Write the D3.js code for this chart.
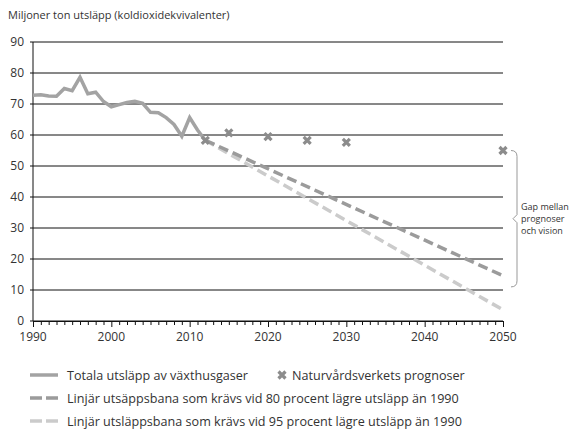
<!DOCTYPE html>
<html>
<head>
<meta charset="utf-8">
<script src="https://cdn.jsdelivr.net/npm/d3@7"></script>
<style>
  body { margin: 0; background: #fff; }
  text { font-family: "Open Sans", "DejaVu Sans", sans-serif; fill: #333; }
</style>
</head>
<body>
<svg id="chart" width="577" height="429"></svg>
<script>
// total emissions per year
var years = d3.range(1990, 2013);
var emissions = [72.8, 73.0, 72.6, 72.5, 75.0, 74.3, 78.6, 73.3, 73.8, 70.8, 69.1,
                 69.8, 70.5, 70.9, 70.2, 67.3, 67.2, 65.6, 63.4, 59.6, 65.6, 61.6, 58.3];

// forecasts
var forecastYears = [2012, 2015, 2020, 2025, 2030, 2050];
var forecastValues = [58.3, 60.7, 59.5, 58.3, 57.6, 55.0];

// linear paths to 2050
var path80 = [[2012, 58.3], [2050, 14.6]];
var path95 = [[2012, 58.3], [2050, 3.6]];

var yTicks = [0, 10, 20, 30, 40, 50, 60, 70, 80, 90];
var xTicks = [1990, 2000, 2010, 2020, 2030, 2040, 2050];

var gapLabel = ['Gap mellan', 'prognoser', 'och vision'];

var legendItems = [
  {type: 'line', color: '#a3a3a3', dash: null, label: 'Totala utsläpp av växthusgaser'},
  {type: 'cross', color: '#8c8c8c', label: 'Naturvårdsverkets prognoser'},
  {type: 'line', color: '#9b9b9b', dash: '12,4', label: 'Linjär utsäppsbana som krävs vid 80 procent lägre utsläpp än 1990'},
  {type: 'line', color: '#cbcbcb', dash: '12,4', label: 'Linjär utsläppsbana som krävs vid 95 procent lägre utsläpp än 1990'}
];

var svg = d3.select('#chart');

var x = d3.scaleLinear().domain([1990, 2050]).range([33, 503]);
var y = d3.scaleLinear().domain([0, 90]).range([321, 42]);

// axis title
svg.append('text')
  .attr('x', 8).attr('y', 19)
  .style('font-size', '11px')
  .text('Miljoner ton utsläpp (koldioxidekvivalenter)');

// grid lines
svg.selectAll('.grid')
  .data(yTicks)
  .enter().append('line')
  .attr('x1', x(1990) - 3).attr('x2', x(2050))
  .attr('y1', function(d) { return y(d); })
  .attr('y2', function(d) { return y(d); })
  .attr('stroke', '#111').attr('stroke-width', 1);

// y labels
svg.selectAll('.ylab')
  .data(yTicks)
  .enter().append('text')
  .attr('x', 24)
  .attr('y', function(d) { return y(d) + 4; })
  .attr('text-anchor', 'end')
  .style('font-size', '12px')
  .text(function(d) { return d; });

// y axis line
svg.append('line')
  .attr('x1', x(1990)).attr('x2', x(1990))
  .attr('y1', y(90)).attr('y2', y(0))
  .attr('stroke', '#111').attr('stroke-width', 1);

// x axis with yearly ticks
var xAxis = d3.axisBottom(x)
  .tickValues(d3.range(1990, 2051))
  .tickSize(4)
  .tickFormat('');
svg.append('g')
  .attr('transform', 'translate(0,' + y(0) + ')')
  .call(xAxis)
  .call(function(g) {
    g.select('.domain').attr('stroke', '#111');
    g.selectAll('.tick line')
      .attr('stroke', '#111')
      .attr('y2', function(d) { return d % 10 === 0 ? 6 : 4; });
  });

svg.selectAll('.xlab')
  .data(xTicks)
  .enter().append('text')
  .attr('x', function(d) { return x(d); })
  .attr('y', 341)
  .attr('text-anchor', 'middle')
  .style('font-size', '12px')
  .text(function(d) { return d; });

// dashed paths
var line = d3.line()
  .x(function(d) { return x(d[0]); })
  .y(function(d) { return y(d[1]); });

svg.append('path')
  .datum(path95)
  .attr('d', line)
  .attr('fill', 'none')
  .attr('stroke', '#cbcbcb').attr('stroke-width', 3.5)
  .attr('stroke-dasharray', '10,5');

svg.append('path')
  .datum(path80)
  .attr('d', line)
  .attr('fill', 'none')
  .attr('stroke', '#9b9b9b').attr('stroke-width', 3.5)
  .attr('stroke-dasharray', '10,5');

// emissions line
svg.append('path')
  .datum(years.map(function(d, i) { return [d, emissions[i]]; }))
  .attr('d', line)
  .attr('fill', 'none')
  .attr('stroke', '#a3a3a3').attr('stroke-width', 3.5)
  .attr('stroke-linejoin', 'miter');

// forecast crosses
function cross(g, s) {
  g.append('path')
    .attr('d', 'M' + (-s) + ',' + (-s) + 'L' + s + ',' + s + 'M' + (-s) + ',' + s + 'L' + s + ',' + (-s))
    .attr('stroke', '#8c8c8c').attr('stroke-width', 3.2);
}
svg.selectAll('.fc')
  .data(forecastYears)
  .enter().append('g')
  .attr('transform', function(d, i) { return 'translate(' + x(d) + ',' + y(forecastValues[i]) + ')'; })
  .each(function() { cross(d3.select(this), 3.5); });

// bracket between forecast and vision
var bx = 517, bTop = y(55), bBot = y(11), bMid = (bTop + bBot) / 2;
svg.append('path')
  .attr('d', 'M' + (bx - 6) + ',' + bTop + ' Q' + bx + ',' + bTop + ' ' + bx + ',' + (bTop + 6) +
        ' L' + bx + ',' + (bMid - 4) + ' L' + (bx - 4) + ',' + bMid + ' L' + bx + ',' + (bMid + 4) +
        ' L' + bx + ',' + (bBot - 6) + ' Q' + bx + ',' + bBot + ' ' + (bx - 6) + ',' + bBot)
  .attr('fill', 'none').attr('stroke', '#999').attr('stroke-width', 1);

svg.selectAll('.gap')
  .data(gapLabel)
  .enter().append('text')
  .attr('x', 521)
  .attr('y', function(d, i) { return bMid - 9 + i * 12; })
  .style('font-size', '9px')
  .text(function(d) { return d; });

// legend
var legendPos = [[30, 375], [277, 375], [30, 398], [30, 421]];
legendItems.forEach(function(item, i) {
  var g = svg.append('g').attr('transform', 'translate(' + legendPos[i][0] + ',' + legendPos[i][1] + ')');
  if (item.type === 'line') {
    g.append('line')
      .attr('x1', 0).attr('x2', 28).attr('y1', 0).attr('y2', 0)
      .attr('stroke', item.color).attr('stroke-width', 3.5)
      .attr('stroke-dasharray', item.dash);
    g.append('text').attr('x', 37).attr('y', 4.5).style('font-size', '12.6px').text(item.label);
  } else {
    cross(g.append('g').attr('transform', 'translate(5,0)'), 3.5);
    g.append('text').attr('x', 15).attr('y', 4.5).style('font-size', '12.6px').text(item.label);
  }
});
</script>
</body>
</html>
